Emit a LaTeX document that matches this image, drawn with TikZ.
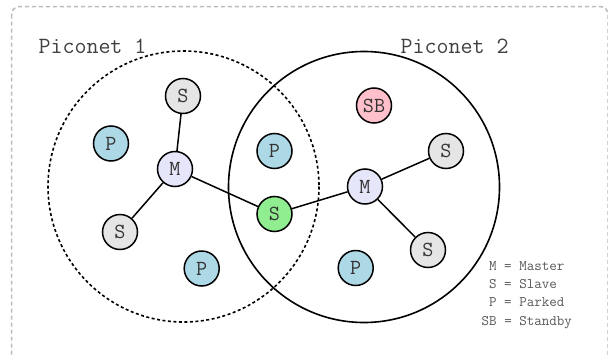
\documentclass[tikz,border=0pt]{standalone}
\usepackage{fontspec}
\definecolor{pblue}{HTML}{ADD8E6}
\definecolor{sgray}{HTML}{E5E5E5}
\definecolor{mlav}{HTML}{E6E6FA}
\definecolor{sbpink}{HTML}{FFC0CB}
\definecolor{sgreen}{HTML}{90EE90}
\definecolor{framegray}{HTML}{BBBBBB}
\begin{document}
\begin{tikzpicture}[x=1pt,y=-1pt,
  dev/.style={circle,draw=black,line width=1.5pt,minimum size=35pt,inner sep=0pt,
    font=\fontsize{21.5}{21.5}\selectfont\ttfamily,text=black!80},
  parked/.style={dev,fill=pblue},
  slave/.style={dev,fill=sgray},
  master/.style={dev,fill=mlav},
  standby/.style={dev,fill=sbpink},
  bridge/.style={dev,fill=sgreen},
  link/.style={draw=black,line width=1.5pt},
  netlabel/.style={font=\fontsize{23.3}{23.3}\selectfont\ttfamily,text=black!75,inner sep=0pt},
  legendtext/.style={font=\fontsize{14.6}{18.2}\selectfont\ttfamily,text=black!65,inner sep=0pt,align=left}
]
\clip (0,0) rectangle (608,356);
\fill[white] (0,0) rectangle (608,356);
% frame
\draw[framegray,line width=1.5pt,dash pattern=on 4pt off 3pt,rounded corners=8pt]
  (11.5,6.5) rectangle (608,366);
% piconets
\draw[black,line width=1.6pt,dash pattern=on 3pt off 2.5pt] (183.5,186.5) circle[radius=135.5];
\draw[black,line width=1.6pt] (364,187) circle[radius=135.5];
\node[netlabel] (lab1) at (92.5,46) {Piconet 1};
\node[netlabel] (lab2) at (454.5,46) {Piconet 2};
% devices
\node[slave]   (s1)  at (183,96)    {S};
\node[parked]  (p1)  at (111,143.5) {P};
\node[master]  (m1)  at (175,169)   {M};
\node[parked]  (p2)  at (274.5,151) {P};
\node[slave]   (s2)  at (120,232)   {S};
\node[parked]  (p3)  at (201.7,268.5) {P};
\node[bridge]  (sb)  at (274.5,214) {S};
\node[standby] (stb) at (374,105.5) {SB};
\node[slave]   (s3)  at (446,151)   {S};
\node[master]  (m2)  at (365,186.5) {M};
\node[slave]   (s4)  at (428,250)   {S};
\node[parked]  (p4)  at (355.7,268) {P};
% links
\draw[link] (m1) -- (s1);
\draw[link] (m1) -- (s2);
\draw[link] (m1) -- (sb);
\draw[link] (sb) -- (m2);
\draw[link] (m2) -- (s3);
\draw[link] (m2) -- (s4);
% legend
\node[legendtext,anchor=north west] (legend) at (481.5,257.5)
  {\begin{tabular}{@{}r@{ = }l@{}}M&Master\\S&Slave\\P&Parked\\SB&Standby\end{tabular}};
\end{tikzpicture}
\end{document}
